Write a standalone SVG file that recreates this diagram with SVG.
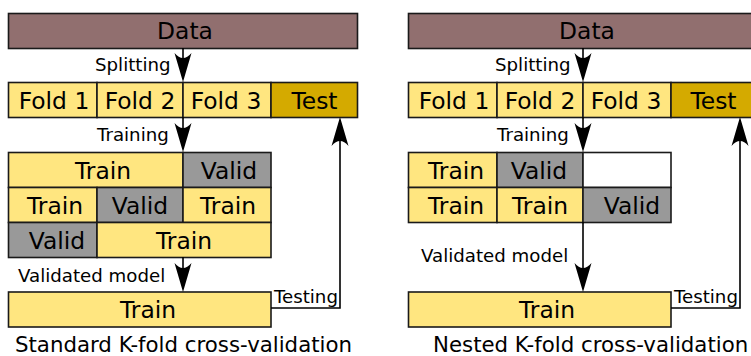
<svg xmlns="http://www.w3.org/2000/svg" xmlns:xlink="http://www.w3.org/1999/xlink" width="751" height="356" viewBox="0 0 751 356">
  <style>
    .box { stroke: #1a1a1a; stroke-width: 1.6; }
    .data { fill: #916f6f; }
    .fold { fill: #ffe680; }
    .test { fill: #d4aa00; }
    .valid { fill: #999999; }
    .empty { fill: #ffffff; }
    .big { font-family: "DejaVu Sans", sans-serif; font-size: 23.4px; fill: #000; text-anchor: middle; }
    .lbl { font-family: "DejaVu Sans", sans-serif; font-size: 18.2px; fill: #000; }
    .title { font-family: "DejaVu Sans", sans-serif; font-size: 21.3px; fill: #000; }
    .wire { fill: none; stroke: #000; stroke-width: 1.6; }
    .head { fill: #000; }
  </style>
  <defs>
    <!-- arrowhead with its tip at the origin, pointing down -->
    <path id="head" class="head" d="M0,0 L-8.5,-29 Q0,-19 8.5,-29 Z"/>
  </defs>

  <rect width="751" height="356" fill="#ffffff"/>

  <!-- ===== Standard K-fold cross-validation ===== -->
  <g id="std-data">
    <rect class="box data" x="8.5" y="13.5" width="349" height="35"/>
    <text class="big" x="185" y="39">Data</text>
  </g>
  <g id="std-folds">
    <rect class="box fold" x="8.5" y="82.5" width="88.5" height="35"/>
    <rect class="box fold" x="97" y="82.5" width="86" height="35"/>
    <rect class="box fold" x="183" y="82.5" width="88" height="35"/>
    <rect class="box test" x="271" y="82.5" width="86.5" height="35"/>
    <text class="big" x="54" y="108.5">Fold 1</text>
    <text class="big" x="140" y="108.5">Fold 2</text>
    <text class="big" x="226" y="108.5">Fold 3</text>
    <text class="big" x="314.5" y="108.5">Test</text>
  </g>
  <g id="std-grid">
    <rect class="box fold" x="8.5" y="152.5" width="174.5" height="35"/>
    <rect class="box valid" x="183" y="152.5" width="88" height="35"/>
    <rect class="box fold" x="8.5" y="187.5" width="88.5" height="35"/>
    <rect class="box valid" x="97" y="187.5" width="86" height="35"/>
    <rect class="box fold" x="183" y="187.5" width="88" height="35"/>
    <rect class="box valid" x="8.5" y="222.5" width="88.5" height="35"/>
    <rect class="box fold" x="97" y="222.5" width="174" height="35"/>
    <text class="big" x="103" y="178.5">Train</text>
    <text class="big" x="229" y="178.5">Valid</text>
    <text class="big" x="55" y="213.5">Train</text>
    <text class="big" x="140" y="213.5">Valid</text>
    <text class="big" x="228" y="213.5">Train</text>
    <text class="big" x="57" y="248.5">Valid</text>
    <text class="big" x="184" y="248.5">Train</text>
  </g>
  <g id="std-final">
    <rect class="box fold" x="8.5" y="292" width="262.5" height="35"/>
    <text class="big" x="148" y="318">Train</text>
  </g>
  <text class="title" x="15" y="352">Standard K-fold cross-validation</text>

  <!-- ===== Nested K-fold cross-validation ===== -->
  <g id="nst-data">
    <rect class="box data" x="408.5" y="13.5" width="360" height="35"/>
    <text class="big" x="587" y="39">Data</text>
  </g>
  <g id="nst-folds">
    <rect class="box fold" x="408.5" y="82.5" width="88.5" height="35"/>
    <rect class="box fold" x="497" y="82.5" width="86" height="35"/>
    <rect class="box fold" x="583" y="82.5" width="88" height="35"/>
    <rect class="box test" x="671" y="82.5" width="96" height="35"/>
    <text class="big" x="454" y="108.5">Fold 1</text>
    <text class="big" x="540" y="108.5">Fold 2</text>
    <text class="big" x="626" y="108.5">Fold 3</text>
    <text class="big" x="713.5" y="108.5">Test</text>
  </g>
  <g id="nst-grid">
    <rect class="box fold" x="408.5" y="152.5" width="88.5" height="35"/>
    <rect class="box valid" x="497" y="152.5" width="86" height="35"/>
    <rect class="box empty" x="583" y="152.5" width="88" height="35"/>
    <rect class="box fold" x="408.5" y="187.5" width="88.5" height="35"/>
    <rect class="box fold" x="497" y="187.5" width="86" height="35"/>
    <rect class="box valid" x="583" y="187.5" width="88" height="35"/>
    <text class="big" x="456" y="178.5">Train</text>
    <text class="big" x="539" y="178.5">Valid</text>
    <text class="big" x="456" y="213.5">Train</text>
    <text class="big" x="540" y="213.5">Train</text>
    <text class="big" x="632" y="213.5">Valid</text>
  </g>
  <g id="nst-final">
    <rect class="box fold" x="408.5" y="292" width="262.5" height="35"/>
    <text class="big" x="547" y="318">Train</text>
  </g>
  <text class="title" x="433" y="352">Nested K-fold cross-validation</text>

  <!-- ===== connectors ===== -->
  <g id="connectors">
    <!-- standard -->
    <line class="wire" x1="183" y1="48" x2="183" y2="78"/>
    <use xlink:href="#head" x="183" y="82"/>
    <text class="lbl" x="95" y="71">Splitting</text>

    <line class="wire" x1="183" y1="117" x2="183" y2="148"/>
    <use xlink:href="#head" x="183" y="152"/>
    <text class="lbl" x="97" y="141">Training</text>

    <line class="wire" x1="183" y1="257" x2="183" y2="288"/>
    <use xlink:href="#head" x="183" y="292"/>
    <text class="lbl" x="18" y="282">Validated model</text>

    <polyline class="wire" points="271,308 340,308 340,122"/>
    <use xlink:href="#head" transform="translate(340,117) rotate(180)"/>
    <text class="lbl" x="274" y="303">Testing</text>

    <!-- nested -->
    <line class="wire" x1="583" y1="48" x2="583" y2="78"/>
    <use xlink:href="#head" x="583" y="82"/>
    <text class="lbl" x="495" y="71">Splitting</text>

    <line class="wire" x1="583" y1="117" x2="583" y2="148"/>
    <use xlink:href="#head" x="583" y="152"/>
    <text class="lbl" x="497" y="141">Training</text>

    <line class="wire" x1="583" y1="222" x2="583" y2="288"/>
    <use xlink:href="#head" x="583" y="292"/>
    <text class="lbl" x="421" y="262">Validated model</text>

    <polyline class="wire" points="671,308 740,308 740,122"/>
    <use xlink:href="#head" transform="translate(740,117) rotate(180)"/>
    <text class="lbl" x="674" y="303">Testing</text>
  </g>
</svg>
